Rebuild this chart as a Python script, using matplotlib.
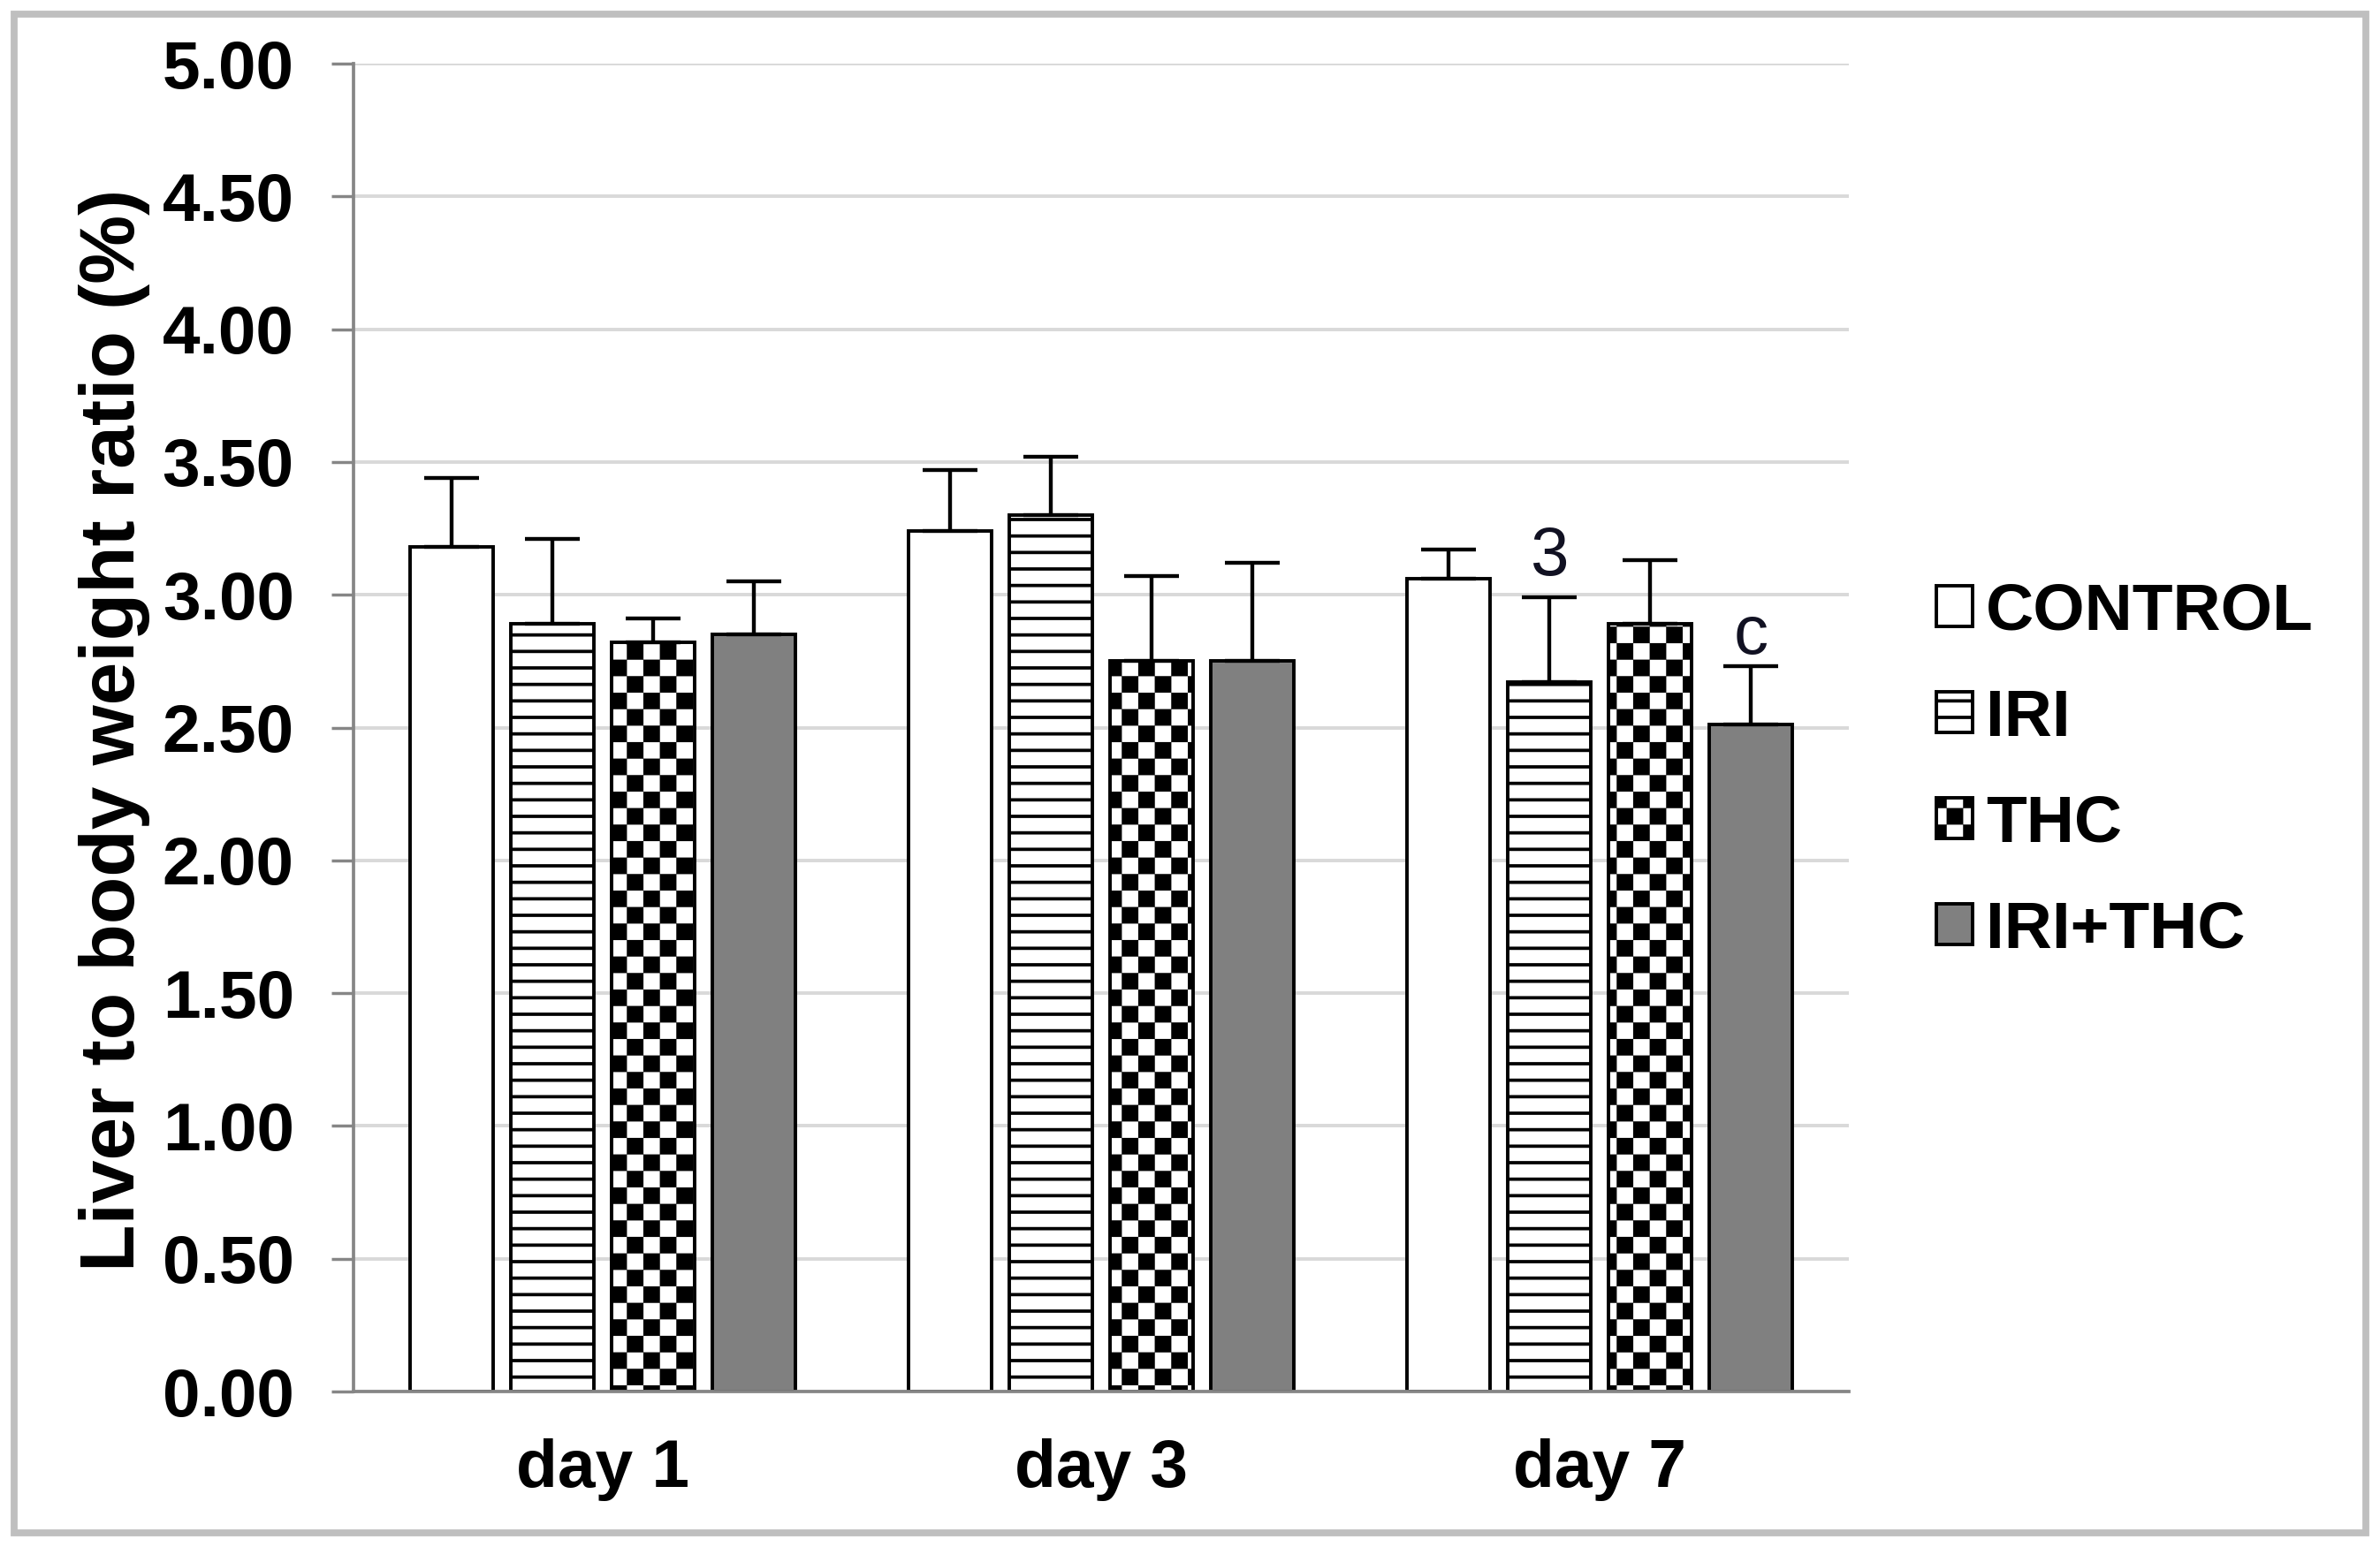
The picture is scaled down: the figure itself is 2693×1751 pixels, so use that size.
import numpy as np
import matplotlib
matplotlib.use('Agg')
import matplotlib.pyplot as plt
import matplotlib.hatch as mhatch
from matplotlib.path import Path
from matplotlib.patches import Rectangle

# 数据
days = ['day 1', 'day 3', 'day 7']
groups = ['CONTROL', 'IRI', 'THC', 'IRI+THC']
control = [3.18, 3.24, 3.06]
control_err = [0.26, 0.23, 0.11]
iri = [2.89, 3.30, 2.67]
iri_err = [0.32, 0.22, 0.32]
thc = [2.82, 2.75, 2.89]
thc_err = [0.09, 0.32, 0.24]
iri_thc = [2.85, 2.75, 2.51]
iri_thc_err = [0.20, 0.37, 0.22]
# 显著性标记
control_marks = ['', '', '']
iri_marks = ['', '', '3']
thc_marks = ['', '', '']
iri_thc_marks = ['', '', 'c']
yticks = [0.0, 0.5, 1.0, 1.5, 2.0, 2.5, 3.0, 3.5, 4.0, 4.5, 5.0]


# 棋盘格填充 (用 '*' 代替星形)
class CheckerHatch(mhatch.HatchPatternBase):
    def __init__(self, hatch, density):
        self.n = hatch.count('*') * density
        self.cells = [(i, j) for i in range(self.n) for j in range(self.n) if (i + j) % 2 == 0]
        self.num_vertices = len(self.cells) * 5

    def set_vertices_and_codes(self, vertices, codes):
        s = 1.0 / self.n
        d = 0.016
        k = 0
        for i, j in self.cells:
            x0, y0 = i * s + d, j * s + d
            x1, y1 = (i + 1) * s - d, (j + 1) * s - d
            vertices[k:k + 5] = [(x0, y0), (x1, y0), (x1, y1), (x0, y1), (x0, y0)]
            codes[k:k + 5] = [Path.MOVETO, Path.LINETO, Path.LINETO, Path.LINETO, Path.CLOSEPOLY]
            k += 5


mhatch._hatch_types = [h for h in mhatch._hatch_types if h is not mhatch.Stars] + [CheckerHatch]

plt.rcParams['font.family'] = ['Liberation Sans', 'DejaVu Sans']
plt.rcParams['hatch.linewidth'] = 2.4

DPI = 112.5
fig = plt.figure(figsize=(2693 / DPI, 1751 / DPI), dpi=DPI)
ax = fig.add_axes([0.14853, 0.10051, 0.62830, 0.85837])

values = [control, iri, thc, iri_thc]
errors = [control_err, iri_err, thc_err, iri_thc_err]
marks = [control_marks, iri_marks, thc_marks, iri_thc_marks]
faces = ['white', 'white', 'white', '#808080']
hatches = [None, '-', '*', None]
mark_offsets = [9, 16, 9, 9]

index = np.arange(len(days))
width = 0.167
step = 0.202

for k in range(len(groups)):
    xpos = index + (k - 1.5) * step
    ax.bar(xpos, values[k], width, color=faces[k], edgecolor='black', linewidth=2.5,
           hatch=hatches[k], label=groups[k], zorder=2)
    ax.errorbar(xpos, values[k], yerr=[np.zeros(len(days)), errors[k]], fmt='none',
                ecolor='black', elinewidth=2.8, capsize=20, capthick=2.8, zorder=3)
    for i in range(len(days)):
        if marks[k][i]:
            ax.annotate(marks[k][i], (xpos[i], values[k][i] + errors[k][i]),
                        xytext=(0, mark_offsets[k]), textcoords='offset points',
                        ha='center', va='baseline', fontsize=50, color='#111122')

ax.set_xlim(-0.5, 2.5)
ax.set_ylim(0, 5)
ax.set_yticks(yticks)
ax.set_yticklabels(['%.2f' % v for v in yticks], fontsize=49, fontweight='bold')
ax.set_xticks(index)
ax.set_xticklabels(days, fontsize=49, fontweight='bold')
ax.tick_params(axis='y', length=16, width=2.2, color='#868686', pad=27)
ax.tick_params(axis='x', length=0, pad=34)
ax.yaxis.grid(True, color='#d9d9d9', linewidth=2.5)
ax.set_axisbelow(True)
for side in ['top', 'right']:
    ax.spines[side].set_visible(False)
for side in ['left', 'bottom']:
    ax.spines[side].set_color('#868686')
    ax.spines[side].set_linewidth(2.4)

ax.set_ylabel('Liver to body weight ratio (%)', fontsize=56, fontweight='bold')
ax.yaxis.set_label_coords(-0.136, 0.498)

ax.legend(loc='center left', bbox_to_anchor=(0.8136, 0.5014), bbox_transform=fig.transFigure,
          frameon=False, prop={'weight': 'bold', 'size': 48},
          handlelength=0.55, handleheight=0.55, handletextpad=0.2,
          labelspacing=0.68, borderpad=0, borderaxespad=0)

# 外边框
fig.patches.append(Rectangle((16 / 2693, 16 / 1751), 1 - 32 / 2693, 1 - 32 / 1751,
                             transform=fig.transFigure, fill=False,
                             edgecolor='#bfbfbf', linewidth=5))

fig.savefig('out.png', dpi=DPI)
